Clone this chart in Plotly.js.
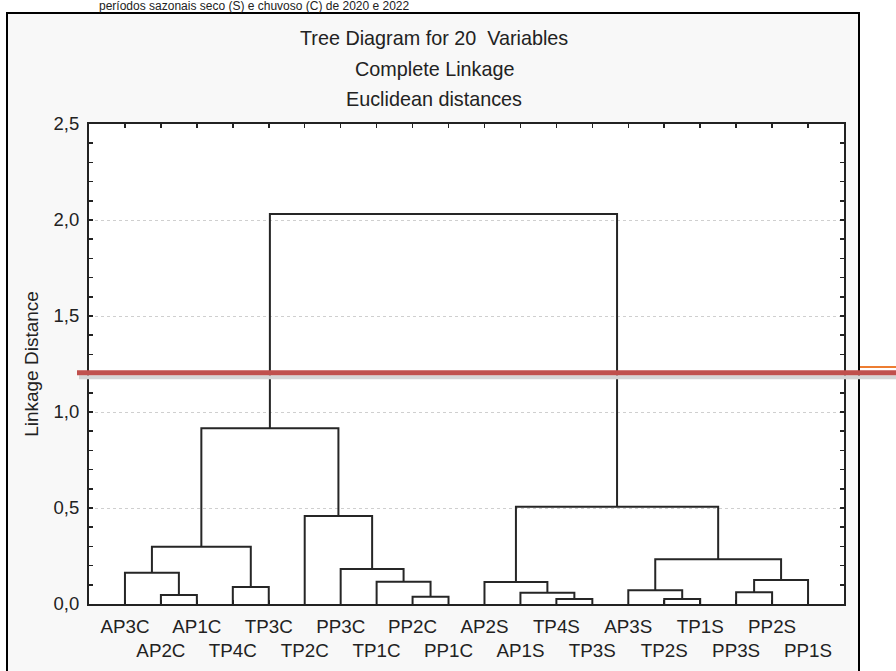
<!DOCTYPE html>
<html>
<head>
<meta charset="utf-8">
<script src="https://cdn.plot.ly/plotly-3.0.1.min.js"></script>
<style>html,body{margin:0;padding:0;background:#fff;}#chart{width:896px;height:671px;}</style>
</head>
<body>
<div id="chart"></div>
<script>
// ---- data ----
const leaves = ['AP3C','AP2C','AP1C','TP4C','TP3C','TP2C','PP3C','TP1C','PP2C','PP1C',
                'AP2S','AP1S','TP4S','TP3S','AP3S','TP2S','TP1S','PP3S','PP2S','PP1S'];
// merge steps: left member, right member (leaf name or node index), linkage distance
const mergeLeft   = ['AP2C','AP3C','TP4C', 1, 'PP2C','TP1C','PP3C','TP2C', 3, 'TP4S','AP1S','AP2S','TP2S','AP3S','PP3S', 14, 13, 11, 8];
const mergeRight  = ['AP1C', 0,   'TP3C', 2, 'PP1C', 4,    5,     6,     7, 'TP3S', 9,     10,   'TP1S', 12,   'PP2S','PP1S', 15, 16, 17];
const mergeHeight = [0.047, 0.163, 0.089, 0.298, 0.038, 0.116, 0.182, 0.458, 0.915,
                     0.026, 0.059, 0.115, 0.026, 0.071, 0.061, 0.125, 0.233, 0.507, 2.031];
const cutoff = 1.205;
const yTicks = [0, 0.5, 1.0, 1.5, 2.0, 2.5];
const titles = ['Tree Diagram for 20  Variables', 'Complete Linkage', 'Euclidean distances'];
const caption = 'períodos sazonais seco (S) e chuvoso (C) de 2020 e 2022';

// ---- build dendrogram segments ----
const leafPos = {};
leaves.forEach((l, i) => { leafPos[l] = i + 1; });
const nodeX = [], nodeY = [];
function pos(m) {
  if (typeof m === 'number') return [nodeX[m], nodeY[m]];
  return [leafPos[m], 0];
}
const xs = [], ys = [];
for (let i = 0; i < mergeHeight.length; i++) {
  const [xa, ya] = pos(mergeLeft[i]);
  const [xb, yb] = pos(mergeRight[i]);
  const h = mergeHeight[i];
  xs.push(xa, xa, xb, xb, null);
  ys.push(ya, h, h, yb, null);
  nodeX[i] = (xa + xb) / 2;
  nodeY[i] = h;
}

const tickText = leaves.map((l, i) => (i % 2 === 0 ? l : '<br>' + l));
const FONT = 'Liberation Sans, Arial, sans-serif';
const TXT = '#222222';

const trace = {
  x: xs, y: ys, type: 'scatter', mode: 'lines',
  line: {color: '#262626', width: 2},
  hoverinfo: 'skip', showlegend: false, connectgaps: false
};

// geometry helpers in paper units (plot area 755 x 480 px)
const L = 89, T = 124, W = 755, H = 480;
const px = v => (v - L) / W;
const py = v => (T + H - v) / H;

const layout = {
  width: 896, height: 671,
  margin: {l: L, r: 896 - L - W, t: T, b: 671 - T - H},
  paper_bgcolor: '#ffffff', plot_bgcolor: '#ffffff',
  separators: ',.',
  font: {family: FONT, size: 19, color: TXT},
  showlegend: false,
  xaxis: {
    range: [0, leaves.length + 1], tickvals: leaves.map((l, i) => i + 1), ticktext: tickText,
    showgrid: false, zeroline: false, showline: true, linecolor: '#222', linewidth: 2,
    mirror: 'ticks', ticks: 'inside', ticklen: 4, tickcolor: '#222', tickwidth: 1.5,
    tickfont: {family: FONT, size: 18.8, color: TXT}, tickangle: 0, ticklabelstandoff: 4,
    fixedrange: true
  },
  yaxis: {
    range: [0, 2.5], tickvals: yTicks, tickformat: '.1f',
    showgrid: true, gridcolor: '#cfcfcf', griddash: 'dot', gridwidth: 1,
    zeroline: false, showline: true, linecolor: '#222', linewidth: 2,
    mirror: 'ticks', ticks: 'inside', ticklen: 4, tickcolor: '#222', tickwidth: 1.5,
    minor: {dtick: 0.1, ticks: 'inside', ticklen: 4, tickcolor: '#222', tickwidth: 1.5, showgrid: false},
    tickfont: {family: FONT, size: 18.5, color: TXT}, ticklabelstandoff: 4,
    title: {text: 'Linkage Distance', font: {family: FONT, size: 19, color: TXT}, standoff: 10},
    fixedrange: true
  },
  shapes: [
    // outer frame
    {type: 'rect', xref: 'paper', yref: 'paper', x0: px(7), x1: px(859), y0: py(700), y1: py(13),
     line: {color: '#000', width: 2}, fillcolor: '#f8f8f8', layer: 'below'},
    // plot area background
    {type: 'rect', xref: 'paper', yref: 'paper', x0: 0, x1: 1, y0: 0, y1: 1,
     line: {width: 0}, fillcolor: '#ffffff', layer: 'below'},
    // shadow of cut line
    {type: 'line', xref: 'paper', yref: 'paper', x0: px(79), x1: px(896),
     y0: cutoff / 2.5 - 4.5 / H, y1: cutoff / 2.5 - 4.5 / H,
     line: {color: '#d4d4d4', width: 4}},
    // cut line
    {type: 'line', xref: 'paper', yref: 'paper', x0: px(77), x1: px(896),
     y0: cutoff / 2.5, y1: cutoff / 2.5, line: {color: '#c0504d', width: 5}},
    // orange fragment at the right
    {type: 'line', xref: 'paper', yref: 'paper', x0: px(860), x1: px(896),
     y0: py(367), y1: py(367), line: {color: '#ed7d31', width: 2}}
  ],
  annotations: titles.map((t, i) => ({
    text: t, xref: 'paper', yref: 'paper', x: px(434), y: py([38, 69, 99][i]),
    xanchor: 'center', yanchor: 'middle', showarrow: false,
    font: {family: FONT, size: 19.8, color: TXT}
  })).concat([{
    text: caption, xref: 'paper', yref: 'paper', x: px(97), y: py(6),
    xanchor: 'left', yanchor: 'middle', showarrow: false,
    font: {family: FONT, size: 12, color: TXT}
  }])
};

Plotly.newPlot('chart', [trace], layout, {displayModeBar: false, staticPlot: true});
</script>
</body>
</html>
